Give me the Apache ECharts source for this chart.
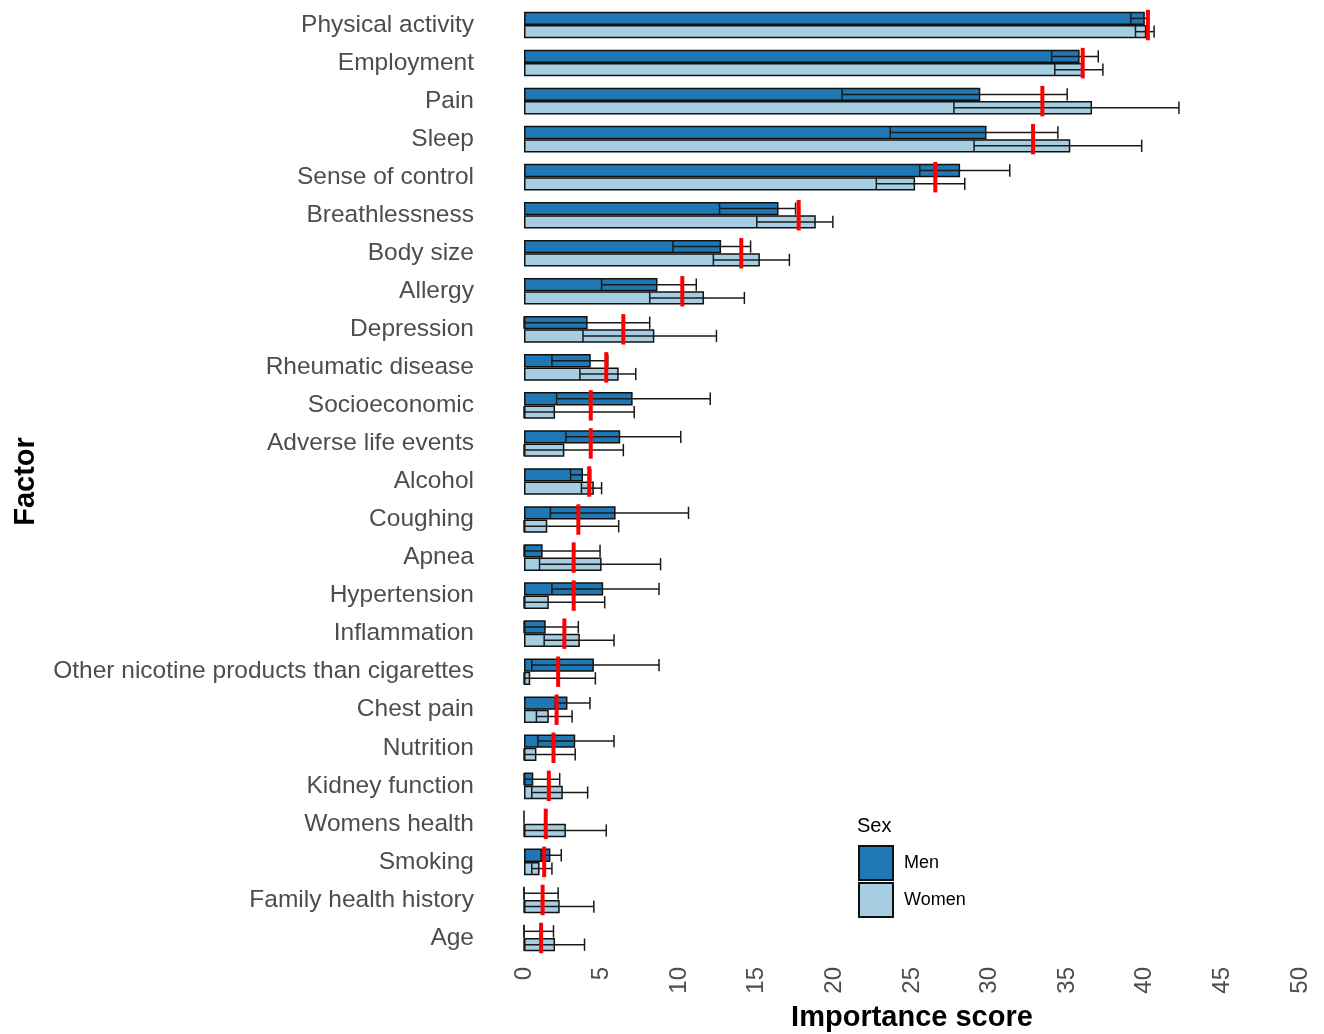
<!DOCTYPE html>
<html>
<head>
<meta charset="utf-8">
<script src="https://cdn.jsdelivr.net/npm/echarts@6/dist/echarts.min.js"></script>
<style>html,body{margin:0;padding:0;background:#fff;overflow:hidden;}#main{width:1324px;height:1034px;}</style>
</head>
<body>
<div id="main"></div>
<script>
const categories = ["Physical activity","Employment","Pain","Sleep","Sense of control","Breathlessness","Body size","Allergy","Depression","Rheumatic disease","Socioeconomic","Adverse life events","Alcohol","Coughing","Apnea","Hypertension","Inflammation","Other nicotine products than cigarettes","Chest pain","Nutrition","Kidney function","Womens health","Smoking","Family health history","Age"];
const menValue   = [40.0,35.8,29.4,29.8,28.1,16.4,12.7, 8.6, 4.1,4.3, 7.0, 6.2,3.8, 5.9,1.2,5.1,1.4,4.5,2.8,3.3,0.6,0.0,1.7,0.0,0.0];
const menLower   = [39.1,34.0,20.5,23.6,25.5,12.6, 9.6, 5.0, 0.0,1.8, 2.1, 2.7,3.0, 1.7,0.0,1.8,0.0,0.5,2.0,0.9,0.0,0.0,1.1,0.0,0.0];
const menUpper   = [40.2,37.0,35.0,34.4,31.3,17.5,14.6,11.1, 8.1,5.4,12.0,10.1,4.3,10.6,4.9,8.7,3.5,8.7,4.25,5.8,2.3,0.0,2.4,2.2,1.9];
const womenValue = [40.1,36.0,36.6,35.2,25.2,18.8,15.2,11.6, 8.4,6.1, 2.0, 2.6,4.5, 1.5,5.0,1.6,3.6,0.4,1.6,0.8,2.5,2.7,1.0,2.3,2.0];
const womenLower = [39.4,34.2,27.7,29.0,22.7,15.0,12.2, 8.1, 3.8,3.6, 0.0, 0.0,3.7, 0.0,1.0,0.0,1.3,0.0,0.8,0.0,0.5,0.0,0.5,0.0,0.0];
const womenUpper = [40.6,37.3,42.2,39.8,28.4,19.9,17.1,14.2,12.4,7.2, 7.1, 6.4,5.0, 6.1,8.8,5.2,5.8,4.6,3.1,3.3,4.1,5.3,1.8,4.5,3.9];
const overallMean= [40.2,36.0,33.4,32.8,26.5,17.7,14.0,10.2, 6.4,5.3, 4.3, 4.3,4.2, 3.5,3.2,3.2,2.6,2.2,2.1,1.9,1.6,1.4,1.3,1.2,1.1];
const xTicks = [0,5,10,15,20,25,30,35,40,45,50];

const BAR_FRAC = 0.35;
const FONT = "'Liberation Sans', Arial, sans-serif";

function errSeries(name, sign, lowers, uppers) {
  return {
    type: 'custom',
    name: name + ' error',
    z: 5,
    silent: true,
    encode: { x: [1, 2], y: 0 },
    data: categories.map((c, i) => [i, lowers[i], uppers[i]]),
    renderItem: function (params, api) {
      const i = api.value(0), lo = api.value(1), hi = api.value(2);
      if (!(hi > lo)) return null;
      const band = api.size([0, 1])[1];
      const bw = band * BAR_FRAC;
      const p1 = api.coord([lo, i]);
      const p2 = api.coord([hi, i]);
      const cy = p1[1] + sign * bw / 2;
      const h = bw / 2 - 0.5;
      const st = { stroke: '#1a1a1a', lineWidth: 1.5 };
      return {
        type: 'group',
        children: [
          { type: 'line', shape: { x1: p1[0], y1: cy, x2: p2[0], y2: cy }, style: st },
          { type: 'line', shape: { x1: p1[0], y1: cy - h, x2: p1[0], y2: cy + h }, style: st },
          { type: 'line', shape: { x1: p2[0], y1: cy - h, x2: p2[0], y2: cy + h }, style: st }
        ]
      };
    }
  };
}

const chart = echarts.init(document.getElementById('main'));
chart.setOption({
  animation: false,
  backgroundColor: '#ffffff',
  textStyle: { fontFamily: FONT },
  title: {
    text: 'Sex', left: 857, top: 816, padding: 0,
    textStyle: { fontSize: 20, fontWeight: 'normal', color: '#000', fontFamily: FONT }
  },
  legend: {
    data: ['Men', 'Women'],
    orient: 'vertical', left: 858, top: 845, padding: 0,
    itemWidth: 34, itemHeight: 34, itemGap: 1, icon: 'rect',
    textStyle: { fontSize: 18, color: '#000', padding: [0, 0, 0, 6], fontFamily: FONT }
  },
  grid: { left: 524, right: 24, top: 6, bottom: 77, containLabel: false, outerBoundsMode: 'none' },
  xAxis: {
    type: 'value', min: 0, max: 50, interval: 5,
    name: 'Importance score', nameLocation: 'middle', nameGap: 46, nameMoveOverlap: false,
    nameTextStyle: { fontSize: 29, fontWeight: 'bold', color: '#000', fontFamily: FONT },
    axisLine: { show: false }, axisTick: { show: false }, splitLine: { show: false },
    axisLabel: { rotate: 90, fontSize: 24, color: '#4d4d4d', margin: 10, fontFamily: FONT,
      formatter: v => xTicks.indexOf(v) >= 0 ? String(v) : '' }
  },
  yAxis: {
    type: 'category', data: categories, inverse: true,
    name: 'Factor', nameLocation: 'middle', nameGap: 484, nameRotate: 90, nameMoveOverlap: false,
    nameTextStyle: { fontSize: 29, fontWeight: 'bold', color: '#000', fontFamily: FONT },
    axisLine: { show: false }, axisTick: { show: false }, splitLine: { show: false },
    axisLabel: { fontSize: 24.5, color: '#4d4d4d', margin: 50, fontFamily: FONT }
  },
  series: [
    { type: 'bar', name: 'Men', data: menValue, barWidth: (BAR_FRAC * 100) + '%', barGap: '0%', z: 2,
      itemStyle: { color: '#1F78B4', borderColor: '#111', borderWidth: 1.5 } },
    { type: 'bar', name: 'Women', data: womenValue, barWidth: (BAR_FRAC * 100) + '%', barGap: '0%', z: 2,
      itemStyle: { color: '#A6CEE3', borderColor: '#111', borderWidth: 1.5 } },
    errSeries('Men', -1, menLower, menUpper),
    errSeries('Women', 1, womenLower, womenUpper),
    {
      type: 'custom', name: 'Mean', z: 8, silent: true,
      encode: { x: 1, y: 0 },
      data: categories.map((c, i) => [i, overallMean[i]]),
      renderItem: function (params, api) {
        const i = api.value(0);
        const p = api.coord([api.value(1), i]);
        const band = api.size([0, 1])[1];
        const h = band * 0.4;
        return { type: 'rect', shape: { x: p[0] - 2, y: p[1] - h, width: 4, height: 2 * h },
                 style: { fill: '#FF0000' } };
      }
    }
  ]
});
</script>
</body>
</html>
